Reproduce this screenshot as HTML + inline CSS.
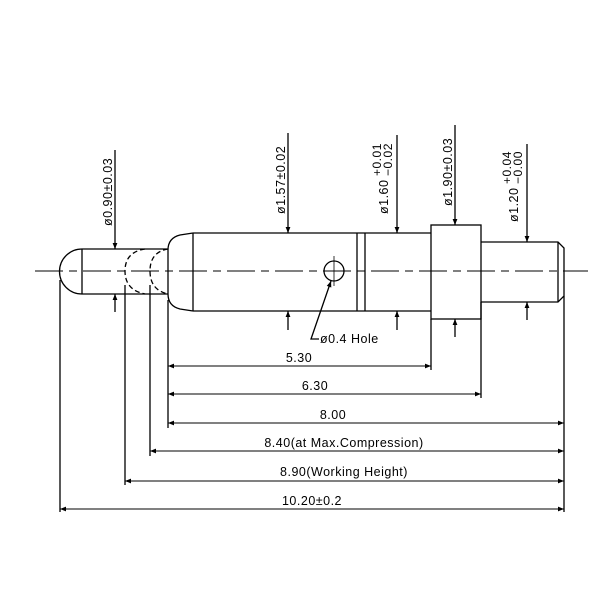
<!DOCTYPE html>
<html><head><style>
html,body{margin:0;padding:0;background:#fff;}
svg{display:block;}
text{font-family:"Liberation Sans","DejaVu Sans",sans-serif;fill:#000;}
</style></head><body>
<svg width="600" height="600" viewBox="0 0 600 600" xmlns="http://www.w3.org/2000/svg">
<defs>
<marker id="a" viewBox="0 0 10 10" refX="10" refY="5" markerWidth="8" markerHeight="6" orient="auto-start-reverse" markerUnits="userSpaceOnUse">
<path d="M0,1 L10,5 L0,9 z" fill="#000"/>
</marker>
</defs>
<g stroke="#000" stroke-width="1.3" fill="none">
<line x1="35" y1="271" x2="588" y2="271" stroke-width="1" stroke-dasharray="28,6,8,6"/>
<path d="M82,249 A22,22 0 0 0 82,294"/>
<line x1="82" y1="249" x2="82" y2="294"/>
<line x1="82" y1="249" x2="168" y2="249"/>
<line x1="82" y1="294" x2="168" y2="294"/>
<path d="M145,249 Q125,252 125,271 Q125,290 145,294" stroke-dasharray="5,3"/>
<path d="M168,249 Q150,252 150,271 Q150,290 168,294" stroke-dasharray="5,3"/>
<path d="M193,233 L180,235 Q168,238 168,250 L168,294 Q168,306 180,309 L193,311"/>
<line x1="193" y1="233" x2="193" y2="311"/>
<line x1="193" y1="233" x2="431" y2="233"/>
<line x1="193" y1="311" x2="431" y2="311"/>
<line x1="357" y1="233" x2="357" y2="311"/>
<line x1="365" y1="233" x2="365" y2="311"/>
<circle cx="334" cy="271" r="10"/>
<line x1="334" y1="256" x2="334" y2="286" stroke-width="0.8"/>
<rect x="431" y="225" width="50" height="94"/>
<path d="M481,242 L558,242 L564,248 L564,296 L558,302 L481,302"/>
<line x1="558" y1="242" x2="558" y2="302"/>
<polyline points="331,281 311,339 319,339" marker-start="url(#a)"/>
<line x1="115" y1="150" x2="115" y2="249" marker-end="url(#a)"/>
<line x1="115" y1="312" x2="115" y2="294" marker-end="url(#a)"/>
<line x1="288" y1="133" x2="288" y2="233" marker-end="url(#a)"/>
<line x1="288" y1="330" x2="288" y2="311" marker-end="url(#a)"/>
<line x1="397" y1="135" x2="397" y2="233" marker-end="url(#a)"/>
<line x1="397" y1="330" x2="397" y2="311" marker-end="url(#a)"/>
<line x1="455" y1="125" x2="455" y2="225" marker-end="url(#a)"/>
<line x1="455" y1="337" x2="455" y2="319" marker-end="url(#a)"/>
<line x1="527" y1="144" x2="527" y2="242" marker-end="url(#a)"/>
<line x1="527" y1="320" x2="527" y2="302" marker-end="url(#a)"/>
<line x1="60" y1="280" x2="60" y2="512"/>
<line x1="125" y1="285" x2="125" y2="485"/>
<line x1="150" y1="285" x2="150" y2="456"/>
<line x1="168" y1="300" x2="168" y2="428"/>
<line x1="431" y1="319" x2="431" y2="370"/>
<line x1="481" y1="302" x2="481" y2="398"/>
<line x1="564" y1="296" x2="564" y2="512"/>
<line x1="168" y1="366" x2="431" y2="366" stroke-width="1" marker-start="url(#a)" marker-end="url(#a)"/>
<line x1="168" y1="394" x2="481" y2="394" stroke-width="1" marker-start="url(#a)" marker-end="url(#a)"/>
<line x1="168" y1="423" x2="564" y2="423" stroke-width="1" marker-start="url(#a)" marker-end="url(#a)"/>
<line x1="150" y1="451" x2="564" y2="451" stroke-width="1" marker-start="url(#a)" marker-end="url(#a)"/>
<line x1="125" y1="481" x2="564" y2="481" stroke-width="1" marker-start="url(#a)" marker-end="url(#a)"/>
<line x1="60" y1="509" x2="564" y2="509" stroke-width="1" marker-start="url(#a)" marker-end="url(#a)"/>
</g>
<g font-size="12.5" letter-spacing="0.5">
<text x="320" y="343">ø0.4 Hole</text>
<text x="299" y="362" text-anchor="middle">5.30</text>
<text x="315" y="390" text-anchor="middle">6.30</text>
<text x="333" y="419" text-anchor="middle">8.00</text>
<text x="344" y="447" text-anchor="middle">8.40(at Max.Compression)</text>
<text x="344" y="476" text-anchor="middle">8.90(Working Height)</text>
<text x="312" y="505" text-anchor="middle">10.20±0.2</text>
<text transform="translate(112,226) rotate(-90)">ø0.90±0.03</text>
<text transform="translate(285,214) rotate(-90)">ø1.57±0.02</text>
<text transform="translate(452,206) rotate(-90)">ø1.90±0.03</text>
<text transform="translate(388,214) rotate(-90)">ø1.60</text>
<text transform="translate(381,176) rotate(-90)" font-size="12">+0.01</text>
<text transform="translate(392,176) rotate(-90)" font-size="12">−0.02</text>
<text transform="translate(518,222) rotate(-90)">ø1.20</text>
<text transform="translate(511,184) rotate(-90)" font-size="12">+0.04</text>
<text transform="translate(522,184) rotate(-90)" font-size="12">−0.00</text>
</g>
</svg>
</body></html>
